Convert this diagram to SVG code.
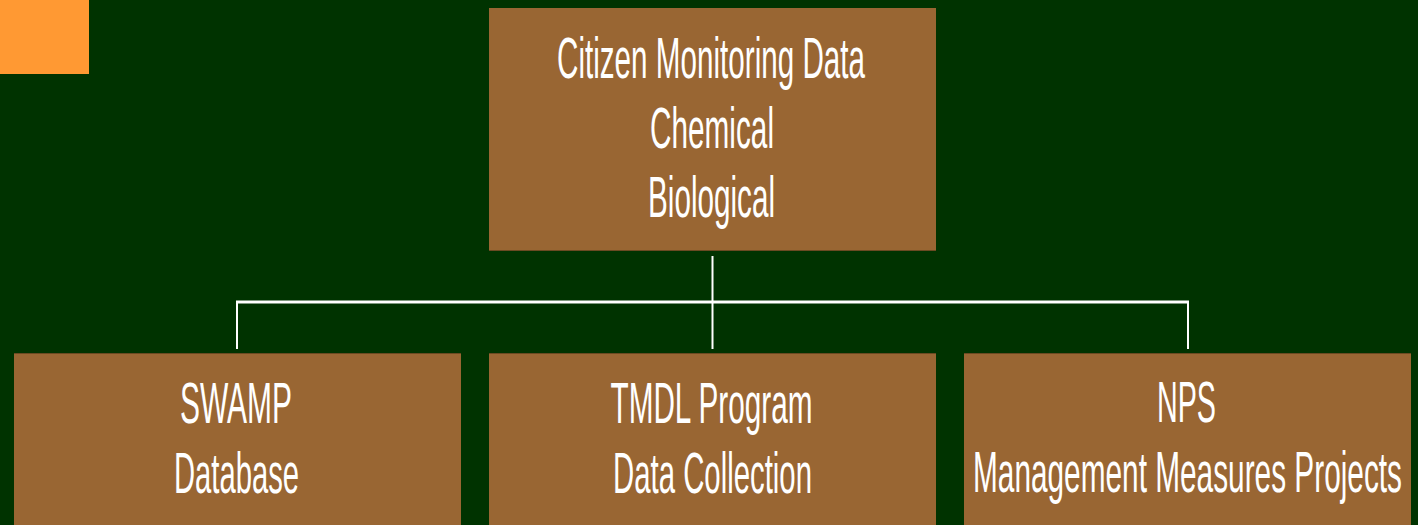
<svg xmlns="http://www.w3.org/2000/svg" width="1418" height="525" viewBox="0 0 1418 525">
<style>
.box{fill:#996633;}
.edge{stroke:#6b4a22;stroke-width:1;}
.t{font-family:"Liberation Sans",Arial,sans-serif;font-size:58px;fill:#ffffff;text-anchor:middle;}
.c{stroke:#ffffff;fill:none;}
</style>
<rect x="0" y="0" width="1418" height="525" fill="#003300"/>
<rect x="0" y="0" width="89" height="74" fill="#ff9933"/>
<g id="connectors">
<line class="c" x1="712.5" y1="256" x2="712.5" y2="349" stroke-width="2"/>
<line class="c" x1="236" y1="302" x2="1189" y2="302" stroke-width="3"/>
<line class="c" x1="237" y1="301" x2="237" y2="349" stroke-width="2"/>
<line class="c" x1="1188" y1="301" x2="1188" y2="349" stroke-width="2"/>
</g>
<g id="node-citizen">
<rect class="box" x="489" y="8" width="447" height="243"/>
<line class="edge" x1="489" y1="250.5" x2="936" y2="250.5"/>
<text class="t" x="711" y="78" textLength="308" lengthAdjust="spacingAndGlyphs">Citizen Monitoring Data</text>
<text class="t" x="712" y="148" textLength="124" lengthAdjust="spacingAndGlyphs">Chemical</text>
<text class="t" x="711.5" y="217" textLength="127" lengthAdjust="spacingAndGlyphs">Biological</text>
</g>
<g id="node-swamp">
<rect class="box" x="14" y="353" width="447" height="172"/>
<line class="edge" x1="14" y1="353.5" x2="461" y2="353.5"/>
<text class="t" x="236" y="422.5" textLength="112" lengthAdjust="spacingAndGlyphs">SWAMP</text>
<text class="t" x="236.5" y="492.5" textLength="125" lengthAdjust="spacingAndGlyphs">Database</text>
</g>
<g id="node-tmdl">
<rect class="box" x="489" y="353" width="447" height="172"/>
<line class="edge" x1="489" y1="353.5" x2="936" y2="353.5"/>
<text class="t" x="711.5" y="422.5" textLength="202" lengthAdjust="spacingAndGlyphs">TMDL Program</text>
<text class="t" x="712.5" y="492.5" textLength="199" lengthAdjust="spacingAndGlyphs">Data Collection</text>
</g>
<g id="node-nps">
<rect class="box" x="964" y="353" width="447" height="172"/>
<line class="edge" x1="964" y1="353.5" x2="1411" y2="353.5"/>
<text class="t" x="1186.5" y="422" textLength="59" lengthAdjust="spacingAndGlyphs">NPS</text>
<text class="t" x="1187.5" y="492" textLength="429" lengthAdjust="spacingAndGlyphs">Management Measures Projects</text>
</g>
</svg>
